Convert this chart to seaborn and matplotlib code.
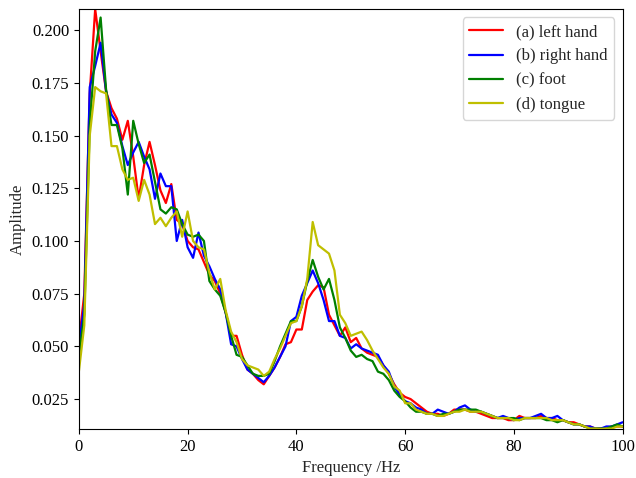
import numpy as np
import pandas as pd
import seaborn as sns
import matplotlib
matplotlib.use("Agg")
import matplotlib.pyplot as plt

# frequency bins (1 Hz resolution)
freq = list(range(0, 101))

left_hand = [
    0.052, 0.075, 0.170, 0.210, 0.190, 0.171, 0.163, 0.158, 0.148, 0.157,
    0.140, 0.120, 0.136, 0.147, 0.136, 0.124, 0.118, 0.127, 0.110, 0.108,
    0.100, 0.097, 0.096, 0.090, 0.084, 0.081, 0.075, 0.066, 0.055, 0.055,
    0.046, 0.039, 0.037, 0.034, 0.032, 0.036, 0.040, 0.045, 0.051, 0.052,
    0.058, 0.058, 0.072, 0.076, 0.079, 0.078, 0.065, 0.060, 0.055, 0.059,
    0.052, 0.054, 0.049, 0.047, 0.046, 0.045, 0.041, 0.037, 0.032, 0.028,
    0.026, 0.025, 0.023, 0.021, 0.019, 0.018, 0.018, 0.017, 0.018, 0.020,
    0.020, 0.020, 0.019, 0.019, 0.018, 0.017, 0.016, 0.016, 0.016, 0.015,
    0.015, 0.017, 0.016, 0.016, 0.016, 0.017, 0.016, 0.016, 0.015, 0.015,
    0.014, 0.014, 0.013, 0.012, 0.012, 0.011, 0.011, 0.011, 0.012, 0.012,
    0.012,
]

right_hand = [
    0.050, 0.070, 0.173, 0.183, 0.194, 0.171, 0.160, 0.156, 0.145, 0.136,
    0.142, 0.147, 0.140, 0.134, 0.120, 0.132, 0.126, 0.126, 0.100, 0.110,
    0.097, 0.092, 0.104, 0.093, 0.088, 0.082, 0.077, 0.066, 0.051, 0.050,
    0.044, 0.039, 0.037, 0.035, 0.033, 0.036, 0.040, 0.045, 0.050, 0.062,
    0.064, 0.074, 0.080, 0.086, 0.080, 0.072, 0.062, 0.062, 0.055, 0.054,
    0.049, 0.051, 0.049, 0.048, 0.047, 0.046, 0.041, 0.038, 0.031, 0.027,
    0.024, 0.023, 0.021, 0.020, 0.018, 0.018, 0.020, 0.019, 0.018, 0.019,
    0.021, 0.022, 0.020, 0.019, 0.019, 0.018, 0.017, 0.016, 0.017, 0.016,
    0.015, 0.016, 0.016, 0.016, 0.017, 0.018, 0.016, 0.016, 0.017, 0.015,
    0.014, 0.013, 0.013, 0.012, 0.012, 0.011, 0.011, 0.012, 0.012, 0.013,
    0.014,
]

foot = [
    0.045, 0.065, 0.155, 0.190, 0.206, 0.172, 0.155, 0.155, 0.144, 0.122,
    0.157, 0.146, 0.137, 0.141, 0.128, 0.115, 0.113, 0.116, 0.115, 0.108,
    0.103, 0.102, 0.103, 0.100, 0.081, 0.077, 0.074, 0.066, 0.055, 0.046,
    0.045, 0.041, 0.037, 0.036, 0.036, 0.037, 0.043, 0.050, 0.056, 0.062,
    0.062, 0.069, 0.081, 0.091, 0.083, 0.077, 0.082, 0.072, 0.059, 0.054,
    0.048, 0.045, 0.046, 0.044, 0.043, 0.038, 0.037, 0.034, 0.029, 0.026,
    0.024, 0.021, 0.019, 0.019, 0.018, 0.018, 0.017, 0.018, 0.018, 0.019,
    0.020, 0.020, 0.020, 0.020, 0.019, 0.018, 0.017, 0.016, 0.016, 0.016,
    0.016, 0.015, 0.016, 0.016, 0.016, 0.016, 0.015, 0.015, 0.014, 0.015,
    0.014, 0.013, 0.013, 0.012, 0.011, 0.011, 0.011, 0.011, 0.012, 0.013,
    0.012,
]

tongue = [
    0.038, 0.060, 0.150, 0.173, 0.171, 0.170, 0.145, 0.145, 0.134, 0.129,
    0.130, 0.119, 0.129, 0.122, 0.108, 0.111, 0.107, 0.111, 0.114, 0.102,
    0.114, 0.100, 0.097, 0.096, 0.085, 0.077, 0.082, 0.067, 0.057, 0.052,
    0.044, 0.041, 0.040, 0.039, 0.036, 0.038, 0.044, 0.049, 0.055, 0.061,
    0.062, 0.069, 0.082, 0.109, 0.098, 0.096, 0.094, 0.086, 0.065, 0.061,
    0.055, 0.056, 0.057, 0.053, 0.048, 0.044, 0.040, 0.037, 0.031, 0.029,
    0.023, 0.023, 0.020, 0.019, 0.018, 0.018, 0.017, 0.017, 0.018, 0.019,
    0.019, 0.020, 0.019, 0.019, 0.019, 0.018, 0.017, 0.016, 0.016, 0.016,
    0.015, 0.015, 0.016, 0.016, 0.016, 0.016, 0.016, 0.015, 0.015, 0.015,
    0.014, 0.013, 0.013, 0.012, 0.011, 0.011, 0.0108, 0.011, 0.011, 0.012,
    0.012,
]

labels = ["(a) left hand", "(b) right hand", "(c) foot", "(d) tongue"]
colors = ["#ff0000", "#0000ff", "#008000", "#bfbf00"]

x_ticks = [0, 20, 40, 60, 80, 100]
y_ticks = [0.025, 0.050, 0.075, 0.100, 0.125, 0.150, 0.175, 0.200]


def build_frame():
    frames = []
    for name, vals in zip(labels, [left_hand, right_hand, foot, tongue]):
        frames.append(pd.DataFrame({"freq": freq, "amp": vals, "task": name}))
    return pd.concat(frames, ignore_index=True)


def main():
    sns.set_style("ticks")
    plt.rcParams["font.family"] = ["Liberation Serif", "DejaVu Serif"]
    plt.rcParams["font.size"] = 12

    df = build_frame()

    fig, ax = plt.subplots(figsize=(6.36, 4.78), dpi=100)
    fig.subplots_adjust(left=0.124, right=0.979, top=0.981, bottom=0.1025)

    sns.lineplot(data=df, x="freq", y="amp", hue="task", palette=colors,
                 linewidth=1.6, ax=ax)

    ax.set_xlim(0, 100)
    ax.set_ylim(0.0108, 0.21)
    ax.set_xticks(x_ticks)
    ax.set_yticks(y_ticks)
    ax.set_yticklabels([f"{t:.3f}" for t in y_ticks])
    ax.tick_params(labelsize=12, colors="black", width=0.8)
    for s in ax.spines.values():
        s.set_color("black")
        s.set_linewidth(0.8)

    ax.set_xlabel("Frequency /Hz", fontsize=12)
    ax.set_ylabel("Amplitude", fontsize=12)

    handles, labs = ax.get_legend_handles_labels()
    ax.legend(handles, labs, loc="upper right", fontsize=12, title=None,
              frameon=True, edgecolor="#cccccc", fancybox=True)

    fig.savefig("out.png", dpi=100)
    plt.close(fig)


if __name__ == "__main__":
    main()
